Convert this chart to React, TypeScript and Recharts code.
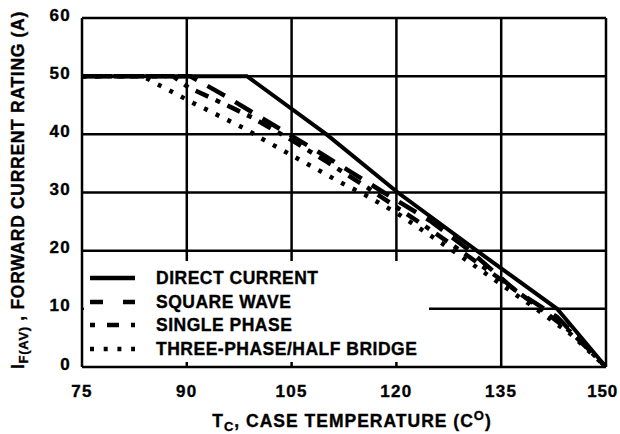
import React from 'react';
import { LineChart, Line, XAxis, YAxis, CartesianGrid, Legend } from 'recharts';

// Case temperature (°C) vs forward current rating (A)
const directCurrent = [
  { x: 75, y: 50 }, { x: 98.6, y: 50 }, { x: 110, y: 40 }, { x: 120.2, y: 30 },
  { x: 131.5, y: 20 }, { x: 143, y: 10 }, { x: 150, y: 0 },
];
const squareWave = [
  { x: 75, y: 50 }, { x: 90.5, y: 50 }, { x: 95.5, y: 46.6 }, { x: 101, y: 42.6 },
  { x: 108.8, y: 37 }, { x: 114.2, y: 33 }, { x: 118.2, y: 30 }, { x: 125, y: 25 },
  { x: 130.5, y: 20 }, { x: 137, y: 13.2 }, { x: 143, y: 8.6 }, { x: 150, y: 0 },
];
const singlePhase = [
  { x: 75, y: 50 }, { x: 88, y: 50 }, { x: 90.2, y: 48.1 }, { x: 96.6, y: 44.5 },
  { x: 99.5, y: 42.8 }, { x: 105, y: 39 }, { x: 110, y: 35.3 }, { x: 115, y: 31.5 },
  { x: 120, y: 27.5 }, { x: 125, y: 23.5 }, { x: 130, y: 19.3 }, { x: 135, y: 15 },
  { x: 140, y: 10.6 }, { x: 145, y: 6 }, { x: 150, y: 0 },
];
const threePhase = [
  { x: 75, y: 50 }, { x: 83.7, y: 50 }, { x: 85.2, y: 49 }, { x: 90.9, y: 45.4 },
  { x: 98.3, y: 41 }, { x: 100.2, y: 39.6 }, { x: 106.2, y: 35.6 }, { x: 111.9, y: 31.8 },
  { x: 115.5, y: 29.6 }, { x: 120, y: 26.5 }, { x: 125, y: 22.5 }, { x: 130, y: 18.4 },
  { x: 135, y: 14.2 }, { x: 140, y: 10 }, { x: 145, y: 5.6 }, { x: 150, y: 0 },
];

const xTicks = [75, 90, 105, 120, 135, 150];
const yTicks = [0, 10, 20, 30, 40, 50, 60];

const seriesNames = ['DIRECT CURRENT', 'SQUARE WAVE', 'SINGLE PHASE', 'THREE-PHASE/HALF BRIDGE'];

const FONT = '"Liberation Sans", Arial, sans-serif';

const plotDash: Record<string, string | undefined> = {
  'DIRECT CURRENT': undefined,
  'SQUARE WAVE': '20 12',
  'SINGLE PHASE': '5 8 14 8',
  'THREE-PHASE/HALF BRIDGE': '4 9',
};
const legendDash: Record<string, string | undefined> = {
  'DIRECT CURRENT': undefined,
  'SQUARE WAVE': '13 20',
  'SINGLE PHASE': '5 12 12 12',
  'THREE-PHASE/HALF BRIDGE': '4 9.7',
};

const TXT = { fontFamily: FONT, fontWeight: 'bold' as const, fill: '#000', stroke: '#000', strokeWidth: 0.35 };

const YTick = (props: any) => {
  const { x, y, payload } = props;
  return (
    <text x={x} y={y + 2.6} textAnchor="end" {...TXT} fontSize={17} letterSpacing={1.3}>{payload.value}</text>
  );
};
const XTick = (props: any) => {
  const { x, y, payload } = props;
  const last = payload.value === xTicks[xTicks.length - 1];
  return (
    <text x={last ? x + 12 : x} y={y + 29.5} textAnchor={last ? 'end' : 'middle'} {...TXT}
      fontSize={17} letterSpacing={last ? 0.8 : 1.3}>{payload.value}</text>
  );
};

const XLabel = () => (
  <text x={352} y={427} textAnchor="middle" {...TXT} fontSize={17.5} letterSpacing={1}>
    T<tspan fontSize={13} dy={4}>C</tspan>
    <tspan dy={-4}>, CASE TEMPERATURE (C</tspan>
    <tspan fontSize={13} dy={-7}>O</tspan>
    <tspan dy={7}>)</tspan>
  </text>
);

const YLabel = () => (
  <text x={24} y={190} transform="rotate(-90, 24, 190)" textAnchor="middle"
    {...TXT} fontSize={17.5} letterSpacing={0.7}>
    I<tspan fontSize={13} dy={4}>F(AV)</tspan>
    <tspan dy={-4}> , FORWARD CURRENT RATING (A)</tspan>
  </text>
);

const LegendContent = () => (
  <div style={{ position: 'relative', width: '100%', height: '100%', background: '#fff' }}>
    {seriesNames.map((name, i) => {
      const cy = 17 + i * 23.7;
      return (
        <div key={name} style={{ position: 'absolute', left: 0, top: cy - 12, height: 24, width: '100%' }}>
          <svg width={52} height={24} style={{ position: 'absolute', left: 6, top: 0 }}>
            <line x1={0} y1={12} x2={45} y2={12} stroke="#000" strokeWidth={4.5}
              strokeDasharray={legendDash[name]} />
          </svg>
          <span style={{
            position: 'absolute', left: 72, top: 0, lineHeight: '24px', whiteSpace: 'nowrap',
            fontFamily: FONT, fontWeight: 'bold', fontSize: 17.5, letterSpacing: 0.5, color: '#000',
            WebkitTextStroke: '0.35px #000',
          }}>{name}</span>
        </div>
      );
    })}
  </div>
);

export default function App() {
  const series = [directCurrent, squareWave, singlePhase, threePhase];
  return (
    <div style={{ position: 'absolute', left: 0, top: 0, width: 620, height: 434, background: '#fff' }}>
      <LineChart width={620} height={434} margin={{ top: 18, right: 14, left: 0, bottom: 0 }}>
        <CartesianGrid stroke="#000" strokeWidth={2.5} />
        <XAxis dataKey="x" type="number" domain={[75, 150]} ticks={xTicks} allowDataOverflow
          height={67} axisLine={false} tickLine={false} tickSize={0} tickMargin={0}
          tick={<XTick />} interval={0} label={<XLabel />} />
        <YAxis type="number" domain={[0, 60]} ticks={yTicks} allowDataOverflow
          width={82} axisLine={false} tickLine={false} tickSize={0} tickMargin={11}
          tick={<YTick />} interval={0} label={<YLabel />} />
        <Legend layout="vertical" align="center" verticalAlign="middle"
          content={<LegendContent />}
          wrapperStyle={{ position: 'absolute', left: 84, top: 261, width: 345, height: 101, background: '#fff' }} />
        {series.map((d, i) => (
          <Line key={seriesNames[i]} name={seriesNames[i]} data={d} dataKey="y" type="linear"
            stroke="#000" strokeWidth={i === 0 ? 4 : 4.5} strokeDasharray={plotDash[seriesNames[i]]}
            dot={false} activeDot={false} isAnimationActive={false} legendType="line" />
        ))}
      </LineChart>
    </div>
  );
}
